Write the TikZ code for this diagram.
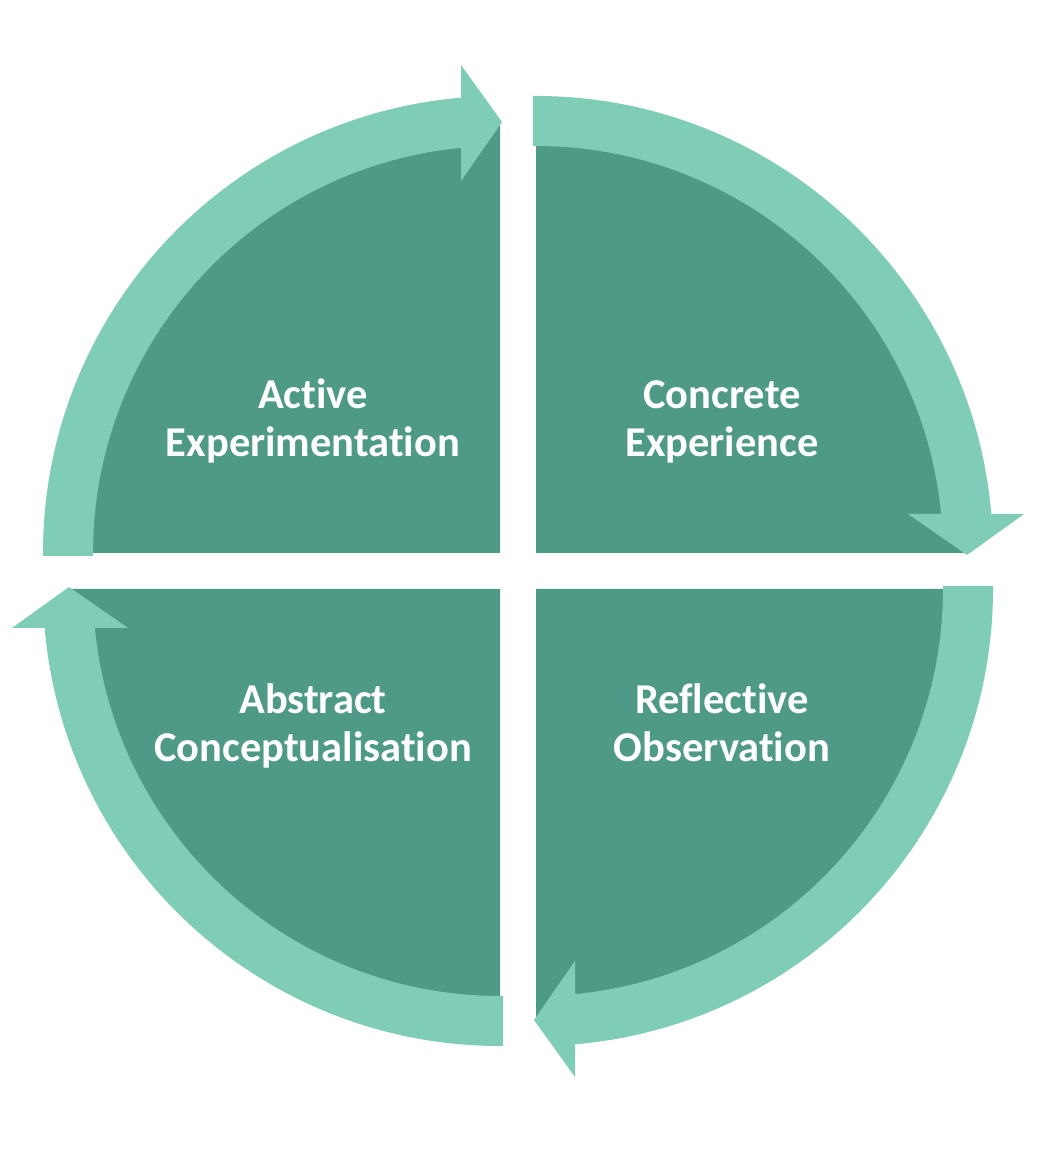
\documentclass[tikz,border=0pt]{standalone}
\usepackage{fontspec}
\setmainfont{Carlito}[Ligatures={NoCommon}]
\definecolor{sectorgreen}{HTML}{4E9A86}
\definecolor{bandgreen}{HTML}{7FCDB6}
\begin{document}
\begin{tikzpicture}[x=1pt,y=1pt,
  sectorfill/.style={fill=sectorgreen},
  bandfill/.style={fill=bandgreen},
  stagelabel/.style={text=white, font=\bfseries\fontsize{42.5}{48}\selectfont, align=center, inner sep=0pt}]
\useasboundingbox (0,0) rectangle (1048,1155);
\coordinate (O) at (518,584);
% dark quarter sectors
\foreach \r in {0,90,180,270} {
  \begin{scope}[shift={(O)}, rotate=\r]
    \fill[sectorfill] (18,18) -- (18,448) arc[start angle=90,end angle=0,radius=430] -- cycle;
  \end{scope}
}
% curved arrow bands
\foreach \r in {0,90,180,270} {
  \begin{scope}[shift={(O)}, rotate=\r]
    \fill[bandfill] (15,475) -- (18,475) arc[start angle=90,end angle=4.9,radius=457]
      -- (423.13,57) arc[start angle=5.5,end angle=90,radius=407] -- (15,425) -- cycle;
    \fill[bandfill] (390,57) -- (506,57) -- (449,16) -- cycle;
  \end{scope}
}
% labels
\node[stagelabel] (ae) at (313,731.6) {\strut Active\\Experimentation\strut};
\node[stagelabel] (ce) at (722,732.4) {\strut Concrete\\Experience\strut};
\node[stagelabel] (ac) at (313,426.6) {\strut Abstract\\Conceptualisation\strut};
\node[stagelabel] (ro) at (722,426.6) {\strut Reflective\\Observation\strut};
\end{tikzpicture}
\end{document}
